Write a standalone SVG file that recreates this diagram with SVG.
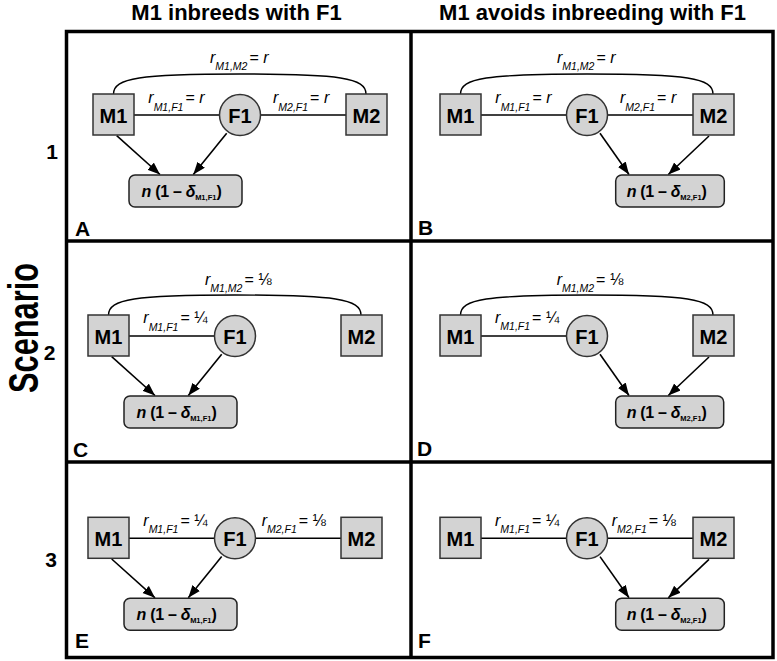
<svg xmlns="http://www.w3.org/2000/svg" width="777" height="661" viewBox="0 0 777 661">
<style>
text{font-family:"Liberation Sans","DejaVu Sans",Arial,sans-serif;fill:#000}
.hdr{font-size:22px;font-weight:bold;text-anchor:middle}
.row{font-size:21px;font-weight:bold;text-anchor:middle}
.plet{font-size:21px;font-weight:bold}
.nodeTxt{font-size:20px;font-weight:bold;text-anchor:middle}
.box{fill:#d3d3d3;stroke:#333;stroke-width:1.5}
.obox{fill:#d3d3d3;stroke:#222;stroke-width:1.5}
.edge{fill:none;stroke:#000;stroke-width:1.4}
.arr{fill:none;stroke:#000;stroke-width:1.6}
.lbl{font-size:16px}
.it{font-style:italic}
.sub{font-size:10.5px;font-style:italic}
.out{font-size:16px;font-weight:bold;letter-spacing:-0.3px}
.osub{font-size:7.5px;font-weight:bold;letter-spacing:0}
.frame{fill:none;stroke:#000;stroke-width:3.5}
</style>
<defs>
<marker id="ah" markerUnits="userSpaceOnUse" markerWidth="13" markerHeight="10" refX="12.5" refY="4.75" orient="auto">
<path d="M0,0 L12.5,4.75 L0,9.5 z" fill="#000"/>
</marker>
</defs>
<rect width="777" height="661" fill="#fff"/>

<g id="frame">
<rect class="frame" x="66.5" y="31.5" width="706.5" height="626"/>
<line class="frame" x1="411" y1="31.5" x2="411" y2="657.5"/>
<line class="frame" x1="66.5" y1="241" x2="773" y2="241"/>
<line class="frame" x1="66.5" y1="462" x2="773" y2="462"/>
</g>

<g id="headers">
<text class="hdr" x="236.5" y="20">M1 inbreeds with F1</text>
<text class="hdr" x="592.5" y="20">M1 avoids inbreeding with F1</text>
<text class="row" x="52" y="159">1</text>
<text class="row" x="49.5" y="360">2</text>
<text class="row" x="51" y="566.5">3</text>
<text x="38" y="328" transform="rotate(-90 38 328)" font-size="42" font-weight="bold" text-anchor="middle" textLength="130" lengthAdjust="spacingAndGlyphs">Scenario</text>
</g>

<g id="panel-letters">
<text class="plet" x="75" y="236">A</text>
<text class="plet" x="418" y="235">B</text>
<text class="plet" x="73" y="456.5">C</text>
<text class="plet" x="417" y="455.5">D</text>
<text class="plet" x="75" y="648">E</text>
<text class="plet" x="418" y="648">F</text>
</g>

<!-- Panel A -->
<g id="panelA">
<g id="A-connectors">
<path class="edge" d="M113.5,94 C113.5,78 140,74 240,74 C340,74 366,78 366,94"/>
<line class="edge" x1="134" y1="115" x2="219.5" y2="115"/>
<line class="edge" x1="260.5" y1="115" x2="346" y2="115"/>
<line class="arr" x1="116.7" y1="135.7" x2="160" y2="174.5" marker-end="url(#ah)"/>
<line class="arr" x1="226.7" y1="133.3" x2="193.3" y2="174.5" marker-end="url(#ah)"/>
<text class="lbl" x="210" y="63"><tspan class="it">r</tspan><tspan class="sub" dy="7">M1,M2</tspan><tspan dy="-7" dx="2">= </tspan><tspan class="it">r</tspan></text>
<text class="lbl" x="148.3" y="103"><tspan class="it">r</tspan><tspan class="sub" dy="7.5">M1,F1</tspan><tspan dy="-7.5" dx="2">= </tspan><tspan class="it">r</tspan></text>
<text class="lbl" x="273" y="103"><tspan class="it">r</tspan><tspan class="sub" dy="7.5">M2,F1</tspan><tspan dy="-7.5" dx="2">= </tspan><tspan class="it">r</tspan></text>
</g>
<g id="A-M1"><rect class="box" x="93" y="94" width="41" height="41"/><text class="nodeTxt" x="113.5" y="122.5">M1</text></g>
<g id="A-F1"><circle class="box" cx="240" cy="115" r="20.5"/><text class="nodeTxt" x="240" y="122.5">F1</text></g>
<g id="A-M2"><rect class="box" x="346" y="94" width="41" height="41"/><text class="nodeTxt" x="366.5" y="122.5">M2</text></g>
<g id="A-out"><rect class="obox" x="129" y="175" width="113" height="32" rx="6"/><text class="out" x="141.5" y="196.7"><tspan class="it">n</tspan> (1 – <tspan class="it">δ</tspan><tspan class="osub" dy="3.5">M1,F1</tspan><tspan dy="-3.5">)</tspan></text></g>
</g>

<!-- Panel B -->
<g id="panelB" transform="translate(347,0)">
<g id="B-connectors">
<path class="edge" d="M113.5,94 C113.5,78 140,74 240,74 C340,74 366,78 366,94"/>
<line class="edge" x1="134" y1="115" x2="219.5" y2="115"/>
<line class="edge" x1="260.5" y1="115" x2="346" y2="115"/>
<line class="arr" x1="253" y1="133.3" x2="282" y2="174.5" marker-end="url(#ah)"/>
<line class="arr" x1="362" y1="136" x2="321.3" y2="174.5" marker-end="url(#ah)"/>
<text class="lbl" x="210" y="63"><tspan class="it">r</tspan><tspan class="sub" dy="7">M1,M2</tspan><tspan dy="-7" dx="2">= </tspan><tspan class="it">r</tspan></text>
<text class="lbl" x="148.3" y="103"><tspan class="it">r</tspan><tspan class="sub" dy="7.5">M1,F1</tspan><tspan dy="-7.5" dx="2">= </tspan><tspan class="it">r</tspan></text>
<text class="lbl" x="273" y="103"><tspan class="it">r</tspan><tspan class="sub" dy="7.5">M2,F1</tspan><tspan dy="-7.5" dx="2">= </tspan><tspan class="it">r</tspan></text>
</g>
<g id="B-M1"><rect class="box" x="93" y="94" width="41" height="41"/><text class="nodeTxt" x="113.5" y="122.5">M1</text></g>
<g id="B-F1"><circle class="box" cx="240" cy="115" r="20.5"/><text class="nodeTxt" x="240" y="122.5">F1</text></g>
<g id="B-M2"><rect class="box" x="346" y="94" width="41" height="41"/><text class="nodeTxt" x="366.5" y="122.5">M2</text></g>
<g id="B-out"><rect class="obox" x="268.7" y="175" width="108.6" height="32" rx="6"/><text class="out" x="279.7" y="196.7"><tspan class="it">n</tspan> (1 – <tspan class="it">δ</tspan><tspan class="osub" dy="3.5">M2,F1</tspan><tspan dy="-3.5">)</tspan></text></g>
</g>

<!-- Panel C -->
<g id="panelC" transform="translate(-5,221)">
<g id="C-connectors">
<path class="edge" d="M113.5,94 C113.5,78 140,74 240,74 C340,74 366,78 366,94"/>
<line class="edge" x1="134" y1="115" x2="219.5" y2="115"/>
<line class="arr" x1="116.7" y1="135.7" x2="160" y2="174.5" marker-end="url(#ah)"/>
<line class="arr" x1="226.7" y1="133.3" x2="193.3" y2="174.5" marker-end="url(#ah)"/>
<text class="lbl" x="210" y="64"><tspan class="it">r</tspan><tspan class="sub" dy="7">M1,M2</tspan><tspan dy="-7" dx="2">= ⅛</tspan></text>
<text class="lbl" x="148.3" y="102.3"><tspan class="it">r</tspan><tspan class="sub" dy="7.5">M1,F1</tspan><tspan dy="-7.5" dx="2">= ¼</tspan></text>
</g>
<g id="C-M1"><rect class="box" x="93" y="94" width="41" height="41"/><text class="nodeTxt" x="113.5" y="122.5">M1</text></g>
<g id="C-F1"><circle class="box" cx="240" cy="115" r="20.5"/><text class="nodeTxt" x="240" y="122.5">F1</text></g>
<g id="C-M2"><rect class="box" x="346" y="94" width="41" height="41"/><text class="nodeTxt" x="366.5" y="122.5">M2</text></g>
<g id="C-out"><rect class="obox" x="129" y="175" width="113" height="32" rx="6"/><text class="out" x="141.5" y="196.7"><tspan class="it">n</tspan> (1 – <tspan class="it">δ</tspan><tspan class="osub" dy="3.5">M1,F1</tspan><tspan dy="-3.5">)</tspan></text></g>
</g>

<!-- Panel D -->
<g id="panelD" transform="translate(347,221)">
<g id="D-connectors">
<path class="edge" d="M113.5,94 C113.5,78 140,74 240,74 C340,74 366,78 366,94"/>
<line class="edge" x1="134" y1="115" x2="219.5" y2="115"/>
<line class="arr" x1="253" y1="133.3" x2="282" y2="174.5" marker-end="url(#ah)"/>
<line class="arr" x1="362" y1="136" x2="321.3" y2="174.5" marker-end="url(#ah)"/>
<text class="lbl" x="209.7" y="64"><tspan class="it">r</tspan><tspan class="sub" dy="7">M1,M2</tspan><tspan dy="-7" dx="2">= ⅛</tspan></text>
<text class="lbl" x="148" y="101.5"><tspan class="it">r</tspan><tspan class="sub" dy="7.5">M1,F1</tspan><tspan dy="-7.5" dx="2">= ¼</tspan></text>
</g>
<g id="D-M1"><rect class="box" x="93" y="94" width="41" height="41"/><text class="nodeTxt" x="113.5" y="122.5">M1</text></g>
<g id="D-F1"><circle class="box" cx="240" cy="115" r="20.5"/><text class="nodeTxt" x="240" y="122.5">F1</text></g>
<g id="D-M2"><rect class="box" x="346" y="94" width="41" height="41"/><text class="nodeTxt" x="366.5" y="122.5">M2</text></g>
<g id="D-out"><rect class="obox" x="268.7" y="175" width="108" height="32" rx="6"/><text class="out" x="279.7" y="196.7"><tspan class="it">n</tspan> (1 – <tspan class="it">δ</tspan><tspan class="osub" dy="3.5">M2,F1</tspan><tspan dy="-3.5">)</tspan></text></g>
</g>

<!-- Panel E -->
<g id="panelE" transform="translate(-5,423.3)">
<g id="E-connectors">
<line class="edge" x1="134" y1="115" x2="219.5" y2="115"/>
<line class="edge" x1="260.5" y1="115" x2="346" y2="115"/>
<line class="arr" x1="116.7" y1="135.7" x2="160" y2="174.5" marker-end="url(#ah)"/>
<line class="arr" x1="226.7" y1="133.3" x2="193.3" y2="174.5" marker-end="url(#ah)"/>
<text class="lbl" x="148.3" y="102.7"><tspan class="it">r</tspan><tspan class="sub" dy="7.5">M1,F1</tspan><tspan dy="-7.5" dx="2">= ¼</tspan></text>
<text class="lbl" x="266.7" y="102.7"><tspan class="it">r</tspan><tspan class="sub" dy="7.5">M2,F1</tspan><tspan dy="-7.5" dx="2">= ⅛</tspan></text>
</g>
<g id="E-M1"><rect class="box" x="93" y="94" width="41" height="41"/><text class="nodeTxt" x="113.5" y="122.5">M1</text></g>
<g id="E-F1"><circle class="box" cx="240" cy="115" r="20.5"/><text class="nodeTxt" x="240" y="122.5">F1</text></g>
<g id="E-M2"><rect class="box" x="346" y="94" width="41" height="41"/><text class="nodeTxt" x="366.5" y="122.5">M2</text></g>
<g id="E-out"><rect class="obox" x="129" y="175" width="113" height="32" rx="6"/><text class="out" x="141.5" y="196.7"><tspan class="it">n</tspan> (1 – <tspan class="it">δ</tspan><tspan class="osub" dy="3.5">M1,F1</tspan><tspan dy="-3.5">)</tspan></text></g>
</g>

<!-- Panel F -->
<g id="panelF" transform="translate(347,423.3)">
<g id="F-connectors">
<line class="edge" x1="134" y1="115" x2="219.5" y2="115"/>
<line class="edge" x1="260.5" y1="115" x2="346" y2="115"/>
<line class="arr" x1="253" y1="133.3" x2="282" y2="174.5" marker-end="url(#ah)"/>
<line class="arr" x1="362" y1="136" x2="321.3" y2="174.5" marker-end="url(#ah)"/>
<text class="lbl" x="148" y="102.7"><tspan class="it">r</tspan><tspan class="sub" dy="7.5">M1,F1</tspan><tspan dy="-7.5" dx="2">= ¼</tspan></text>
<text class="lbl" x="264.7" y="102.7"><tspan class="it">r</tspan><tspan class="sub" dy="7.5">M2,F1</tspan><tspan dy="-7.5" dx="2">= ⅛</tspan></text>
</g>
<g id="F-M1"><rect class="box" x="93" y="94" width="41" height="41"/><text class="nodeTxt" x="113.5" y="122.5">M1</text></g>
<g id="F-F1"><circle class="box" cx="240" cy="115" r="20.5"/><text class="nodeTxt" x="240" y="122.5">F1</text></g>
<g id="F-M2"><rect class="box" x="346" y="94" width="41" height="41"/><text class="nodeTxt" x="366.5" y="122.5">M2</text></g>
<g id="F-out"><rect class="obox" x="268.7" y="175" width="108.6" height="32" rx="6"/><text class="out" x="279.7" y="196.7"><tspan class="it">n</tspan> (1 – <tspan class="it">δ</tspan><tspan class="osub" dy="3.5">M2,F1</tspan><tspan dy="-3.5">)</tspan></text></g>
</g>
</svg>
